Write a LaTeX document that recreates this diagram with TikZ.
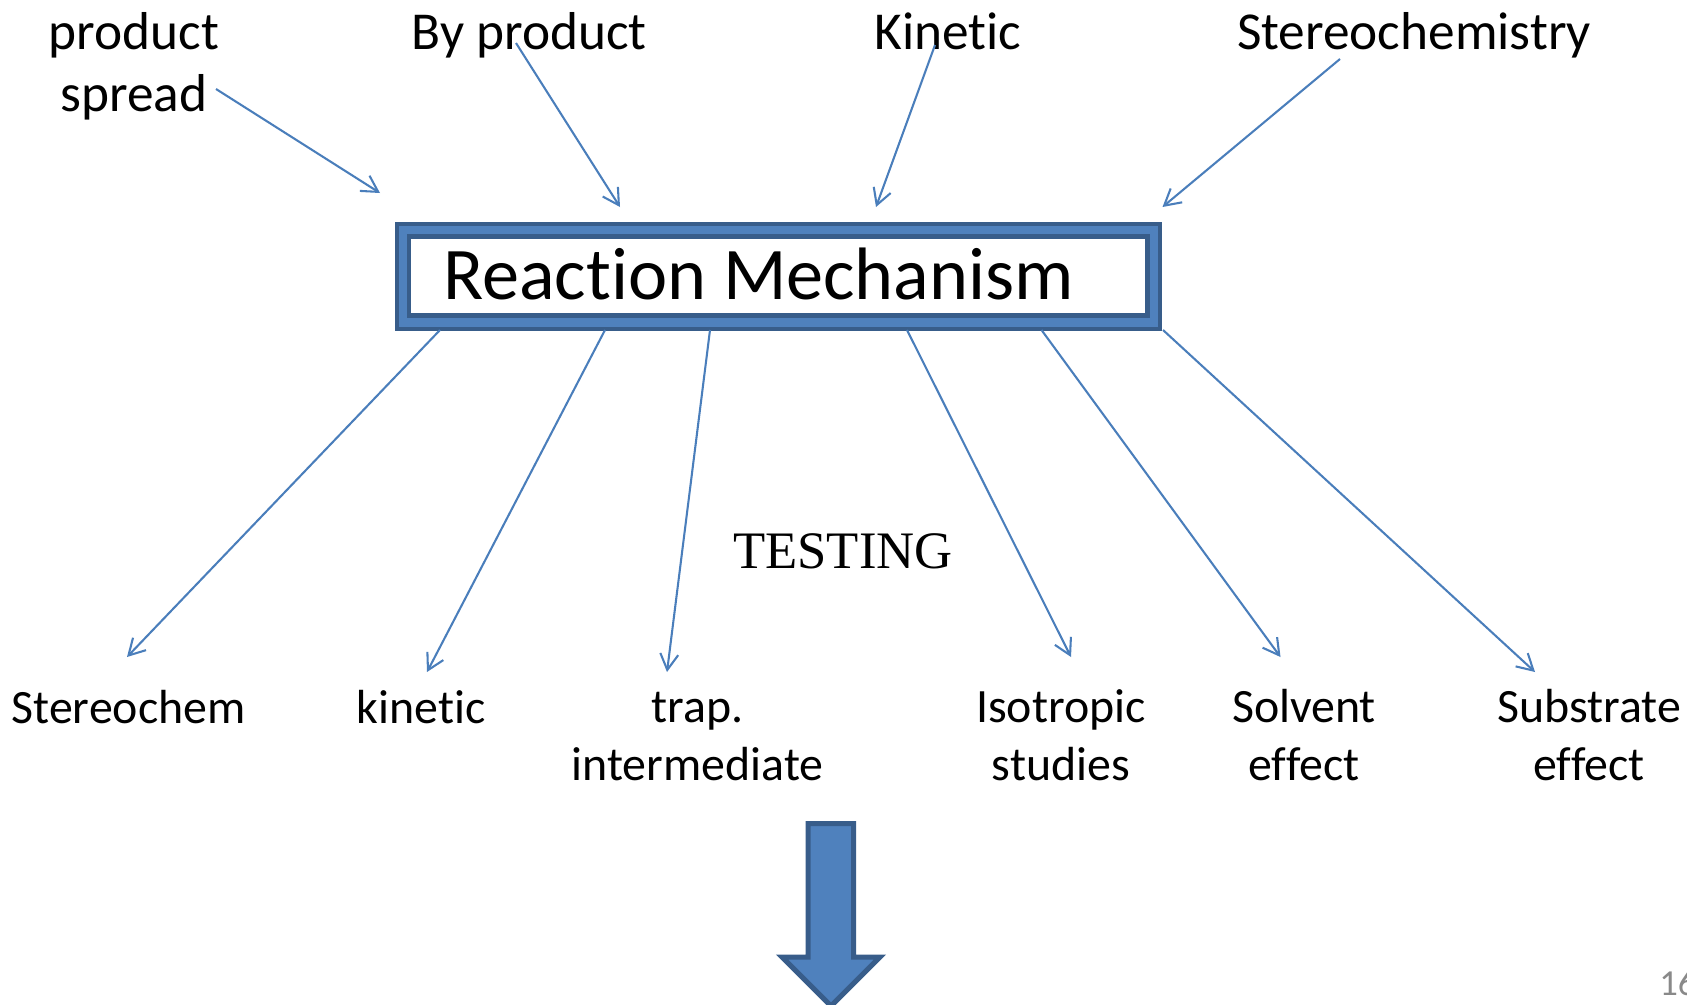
\documentclass[tikz,border=0pt]{standalone}
\usepackage{fontspec}
\setmainfont{Carlito}[Ligatures={NoCommon,NoContextual,NoRequired},Contextuals=NoAlternate]
\newfontfamily\timesf{Liberation Serif}
\usetikzlibrary{arrows.meta}
\definecolor{arr}{HTML}{4A7EBB}
\definecolor{boxfill}{HTML}{4F81BD}
\definecolor{boxline}{HTML}{385D8A}
\definecolor{pgnum}{HTML}{898989}
\newcommand\tisep{\kern0pt }
\begin{document}
\begin{tikzpicture}[x=0.75pt,y=-0.75pt,
  conn/.style={draw=arr, line width=1.55pt, -{Straight Barb[length=12pt,width=13.5pt]}},
  toplab/.style={font=\fontsize{40pt}{46.5pt}\selectfont, inner sep=0pt, anchor=base, align=center},
  botlab/.style={font=\fontsize{35.9pt}{43pt}\selectfont, inner sep=0pt, anchor=base, align=center},
  ]
\useasboundingbox (0,0) rectangle (1687,1004);

% top labels (base anchor = last line)
\node[toplab] (ps) at (134,111) {product\\spread};
\node[toplab] (bp) at (529,49) {By product};
\node[toplab] (kin) at (948,49) {Kinet\tisep ic};
\node[toplab] (stc) at (1414,49) {Stereochemistry};

% central box
\node[draw=boxline, fill=boxfill, line width=3pt, minimum width=572.6pt, minimum height=79.1pt, inner sep=0pt] (rmbox) at (778.25,276.25) {};
\node[draw=boxline, fill=white, line width=3.4pt, minimum width=553.9pt, minimum height=59.25pt, inner sep=0pt] (rmin) at (778.25,276) {};
\node[font=\fontsize{55.7pt}{60pt}\selectfont, inner sep=0pt, anchor=base west] (rmtext) at (443,299.3) {React\tisep ion Mechanism};

% testing
\node[font=\timesf\fontsize{39.5pt}{45pt}\selectfont, inner sep=0pt, anchor=base] (test) at (843,568) {TESTING};

% bottom labels (base anchor = last line)
\node[botlab] (sc) at (128.5,723) {Stereochem};
\node[botlab] (kn) at (421,723) {kinet\tisep ic};
\node[botlab] (tr) at (697.5,780) {trap.\\intermediate};
\node[botlab] (iso) at (1061,780) {Isotropic\\studies};
\node[botlab] (sol) at (1304,780) {Solvent\\effect};
\node[botlab] (sub) at (1589,780) {Substrate\\effect};

% page number
\node[font=\fontsize{27.5pt}{30pt}\selectfont, text=pgnum, inner sep=0pt, anchor=base west] (pg) at (1659,995) {16};

% connector coordinates
\coordinate (t1s) at (216,89);    \coordinate (t1e) at (380,193);
\coordinate (t2s) at (516,43);    \coordinate (t2e) at (620,207);
\coordinate (t3s) at (935,45);    \coordinate (t3e) at (876,207);
\coordinate (t4s) at (1340,59);   \coordinate (t4e) at (1162.5,207);
\coordinate (b1s) at (440,330);   \coordinate (b1e) at (127,657);
\coordinate (b2s) at (605,330);   \coordinate (b2e) at (427,672);
\coordinate (b3s) at (710,330);   \coordinate (b3e) at (667,672);
\coordinate (b4s) at (907,330);   \coordinate (b4e) at (1071,657);
\coordinate (b5s) at (1041.5,330);\coordinate (b5e) at (1280.5,657);
\coordinate (b6s) at (1163,330);  \coordinate (b6e) at (1535,672);

\draw[conn] (t1s) -- (t1e);
\draw[conn] (t2s) -- (t2e);
\draw[conn] (t3s) -- (t3e);
\draw[conn] (t4s) -- (t4e);
\draw[conn] (b1s) -- (b1e);
\draw[conn] (b2s) -- (b2e);
\draw[conn] (b3s) -- (b3e);
\draw[conn] (b4s) -- (b4e);
\draw[conn] (b5s) -- (b5e);
\draw[conn] (b6s) -- (b6e);

% big down arrow
\draw[draw=boxline, fill=boxfill, line width=3.75pt, line join=miter]
  (808,823.5) -- (853.5,823.5) -- (853.5,957) -- (880,957) -- (831,1006)
  -- (782,957) -- (808,957) -- cycle;
\end{tikzpicture}
\end{document}
